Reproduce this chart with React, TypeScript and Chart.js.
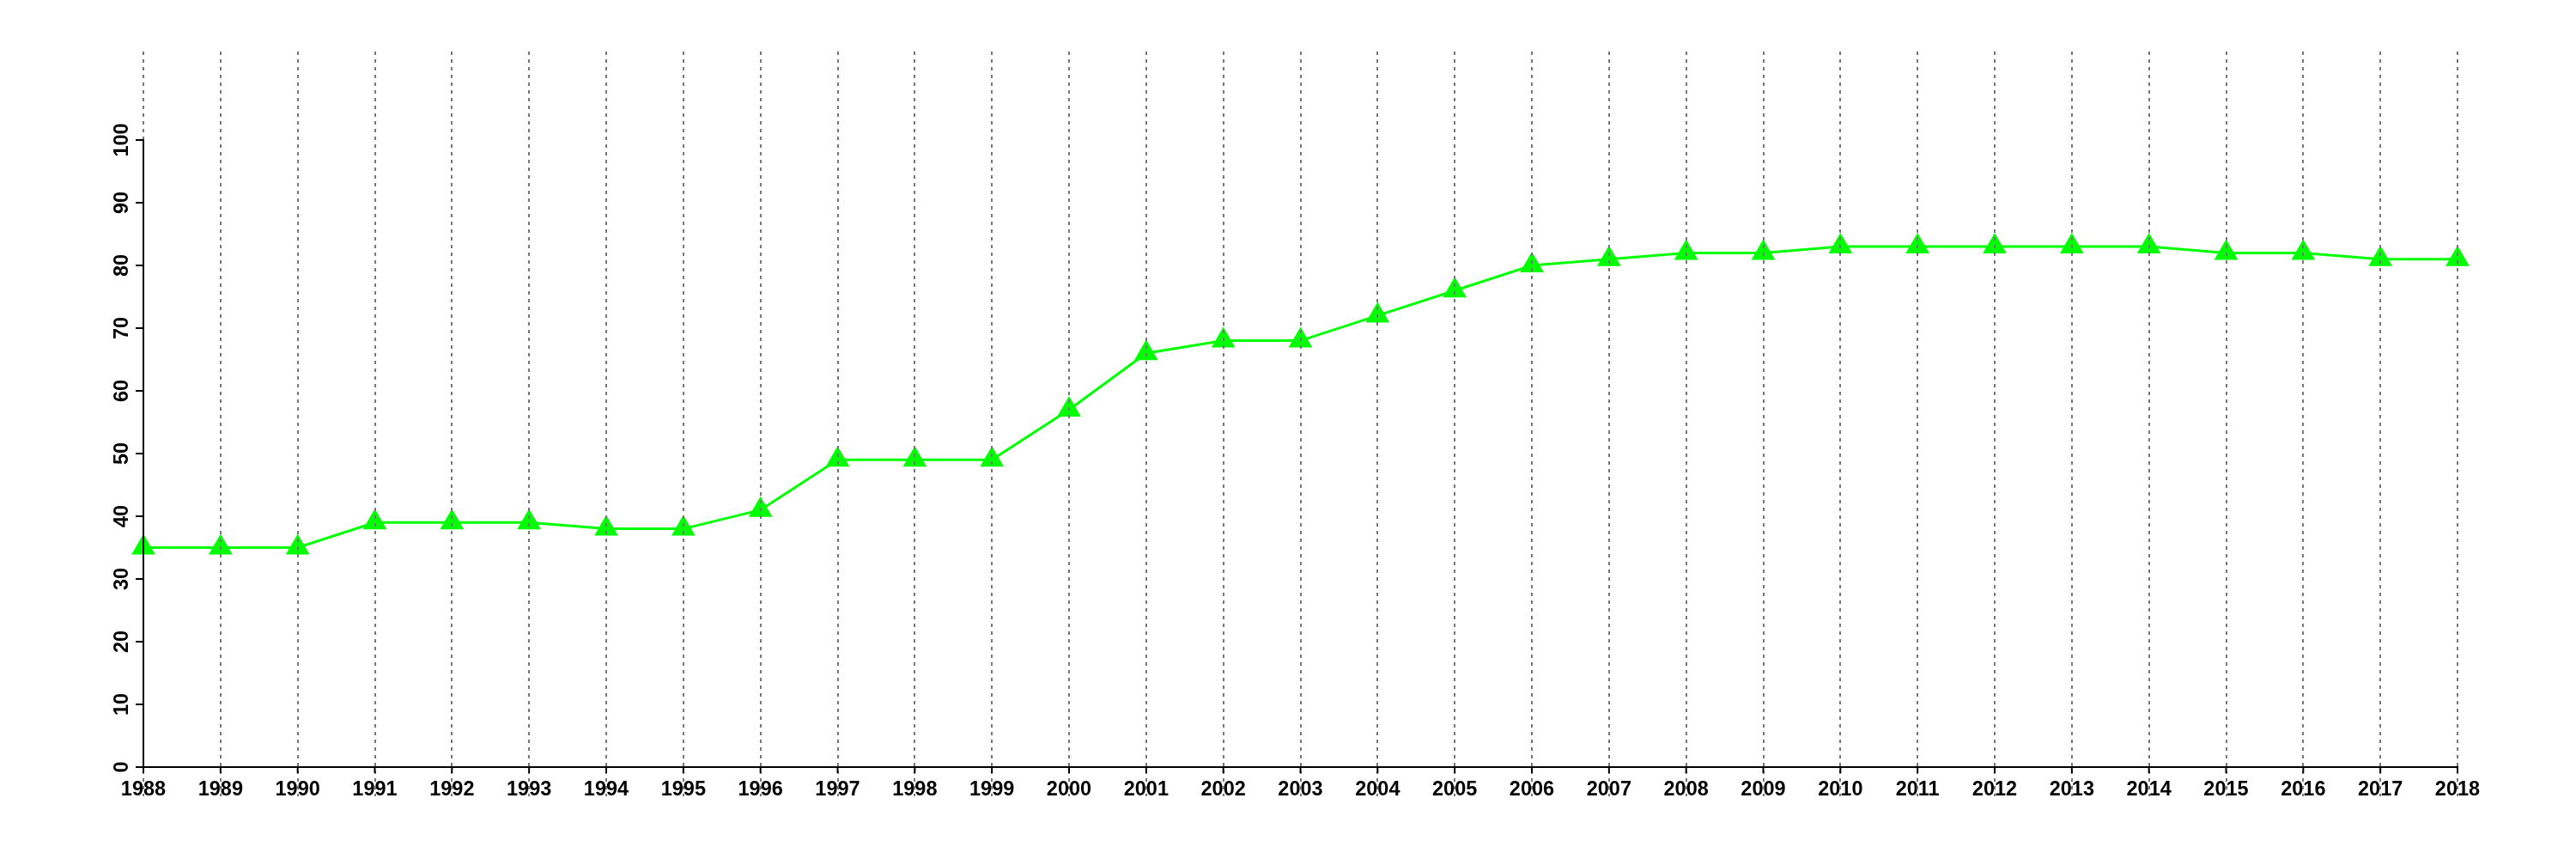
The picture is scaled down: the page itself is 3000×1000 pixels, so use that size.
import React, { useEffect, useRef } from "react";
import { Chart, registerables } from "chart.js";

Chart.register(...registerables);

const years: string[] = [
  "1988", "1989", "1990", "1991", "1992", "1993", "1994", "1995", "1996", "1997",
  "1998", "1999", "2000", "2001", "2002", "2003", "2004", "2005", "2006", "2007",
  "2008", "2009", "2010", "2011", "2012", "2013", "2014", "2015", "2016", "2017", "2018",
];
const values: number[] = [
  35, 35, 35, 39, 39, 39, 38, 38, 41, 49,
  49, 49, 57, 66, 68, 68, 72, 76, 80, 81,
  82, 82, 83, 83, 83, 83, 83, 82, 82, 81, 81,
];
const yTickValues: number[] = [0, 10, 20, 30, 40, 50, 60, 70, 80, 90, 100];

const FONT = "'Liberation Sans', Arial, Helvetica, sans-serif";
const FONT_SIZE = 23.5;

const overlayPlugin = {
  id: "overlay",
  afterDatasetsDraw(chart: any) {
    const ctx = chart.ctx;
    const xs = chart.scales.x;
    const ys = chart.scales.y;
    const top = 60;
    const bottom = 927;
    ctx.save();
    // dotted vertical grid lines
    ctx.strokeStyle = "#777777";
    ctx.lineWidth = 2;
    ctx.setLineDash([4, 5]);
    for (let i = 0; i < years.length; i++) {
      const x = Math.round(xs.getPixelForValue(i));
      ctx.beginPath();
      ctx.moveTo(x, top);
      ctx.lineTo(x, bottom);
      ctx.stroke();
    }
    ctx.setLineDash([]);
    // axis lines
    ctx.strokeStyle = "#000000";
    ctx.lineWidth = 2;
    const x0 = xs.getPixelForValue(0);
    const x1 = xs.getPixelForValue(years.length - 1);
    const y0 = ys.getPixelForValue(0);
    const y1 = ys.getPixelForValue(100);
    ctx.beginPath();
    ctx.moveTo(x0, y1 - 1);
    ctx.lineTo(x0, y0);
    ctx.moveTo(x0 - 1, y0);
    ctx.lineTo(x1 + 1, y0);
    ctx.stroke();
    // y ticks + rotated labels
    ctx.fillStyle = "#000000";
    ctx.font = "bold " + FONT_SIZE + "px " + FONT;
    for (const v of yTickValues) {
      const y = ys.getPixelForValue(v);
      ctx.beginPath();
      ctx.moveTo(x0 - 9, y);
      ctx.lineTo(x0, y);
      ctx.stroke();
      ctx.save();
      ctx.translate(143, y);
      ctx.rotate(-Math.PI / 2);
      ctx.textAlign = "center";
      ctx.textBaseline = "middle";
      ctx.fillText(String(v), 0, 0);
      ctx.restore();
    }
    // x ticks
    for (let i = 0; i < years.length; i++) {
      const x = xs.getPixelForValue(i);
      ctx.beginPath();
      ctx.moveTo(x, y0);
      ctx.lineTo(x, y0 + 7);
      ctx.stroke();
    }
    ctx.restore();
  },
};

export default function App() {
  const ref = useRef<HTMLCanvasElement | null>(null);
  useEffect(() => {
    if (!ref.current) return;
    const chart = new Chart(ref.current, {
      type: "line",
      data: {
        labels: years,
        datasets: [
          {
            data: values,
            borderColor: "#00ff00",
            backgroundColor: "#00ff00",
            borderWidth: 3,
            pointStyle: "triangle",
            pointRadius: 16,
            pointBorderWidth: 0,
            pointBackgroundColor: "#00ff00",
            tension: 0,
          },
        ],
      },
      options: {
        responsive: false,
        animation: false,
        layout: { padding: { left: 0, top: 163, right: 138, bottom: 0 } },
        plugins: { legend: { display: false }, tooltip: { enabled: false } },
        scales: {
          x: {
            type: "category",
            offset: false,
            grid: { display: false },
            border: { display: false },
            ticks: {
              color: "#000000",
              font: { family: FONT, size: FONT_SIZE, weight: "bold" },
              maxRotation: 0,
              minRotation: 0,
              autoSkip: false,
              padding: 4,
            },
            afterFit: (s: any) => {
              s.height = 107;
            },
          },
          y: {
            min: 0,
            max: 100,
            afterBuildTicks: (s: any) => {
              s.ticks = yTickValues.map((v) => ({ value: v }));
            },
            grid: { display: false },
            border: { display: false },
            ticks: { display: false },
            afterFit: (s: any) => {
              s.width = 167;
            },
          },
        },
      },
      plugins: [overlayPlugin],
    });
    return () => chart.destroy();
  }, []);
  return (
    <div style={{ position: "absolute", left: 0, top: 0, width: 3000, height: 1000, background: "#fff" }}>
      <canvas ref={ref} width={3000} height={1000} />
    </div>
  );
}
